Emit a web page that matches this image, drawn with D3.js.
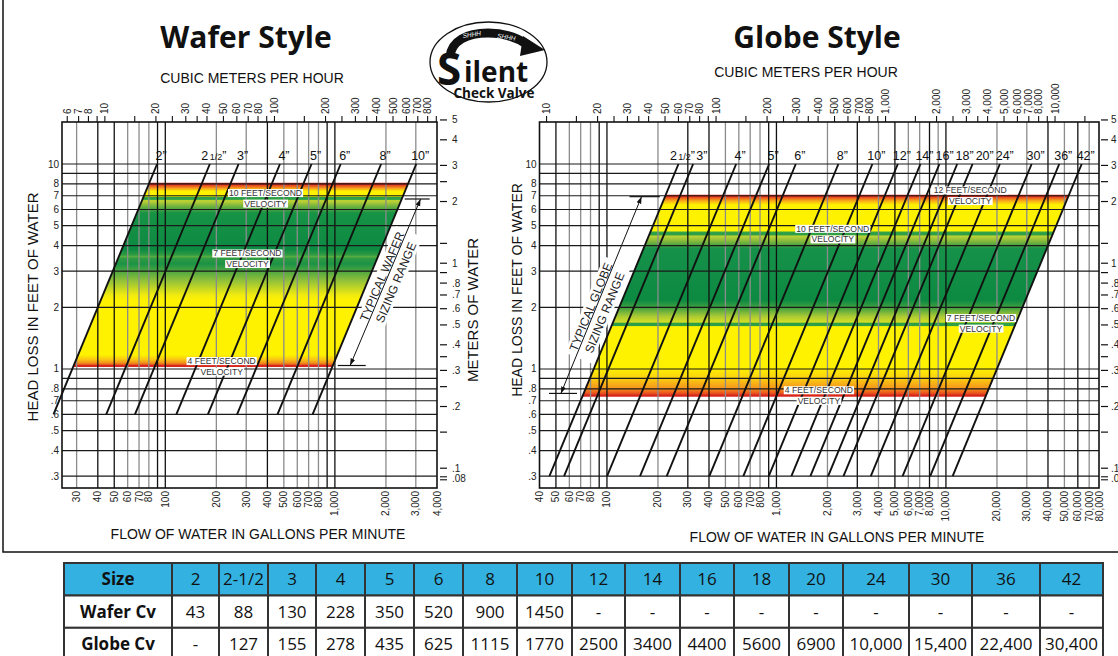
<!DOCTYPE html>
<html><head><meta charset="utf-8">
<script src="https://cdn.jsdelivr.net/npm/d3@7"></script>
<style>body{margin:0;background:#fff}svg{display:block}</style>
</head><body>
<svg id="c" width="1118" height="656"></svg>
<script>
// ---------------- DATA ----------------
const sizes    = ["2","2-1/2","3","4","5","6","8","10","12","14","16","18","20","24","30","36","42"];
const waferCv  = [43,88,130,228,350,520,900,1450,null,null,null,null,null,null,null,null,null];
const globeCv  = [null,127,155,278,435,625,1115,1770,2500,3400,4400,5600,6900,10000,15400,22400,30400];

const headGrid   = [10,9,8,7,6,5,4,3,2,1,0.9,0.8,0.7,0.6,0.5,0.4,0.3];
const headLabels = [10,8,7,6,5,4,3,2,1,0.8,0.7,0.6,0.5,0.4,0.3];
const meterLabels = [5,4,3,2,1,0.8,0.7,0.6,0.5,0.4,0.3,0.2,0.1];
const meterMinor  = [2.5,1.25,0.9,0.35,0.25,0.15];

const waferGpmGrid   = [30,40,50,60,70,80,90,100,200,300,400,500,600,700,800,900,1000,2000,3000];
const waferGpmLabels = [30,40,50,60,70,80,100,200,300,400,500,600,700,800,1000,2000,3000,4000];
const waferM3Labels  = [6,7,8,10,20,30,40,50,60,70,80,100,200,300,400,500,600,700,800];
const waferM3Minor   = [9,15,25,35,90,150,250,350,900];

const globeGpmGrid   = [50,60,70,80,90,100,200,300,400,500,600,700,800,900,1000,2000,3000,4000,5000,6000,7000,8000,9000,10000,20000,30000,40000,50000,60000,70000];
const globeGpmLabels = [40,50,60,70,80,100,200,300,400,500,600,700,800,1000,2000,3000,4000,5000,6000,7000,8000,10000,20000,30000,40000,50000,60000,70000,80000];
const globeM3Labels  = [10,20,30,40,50,60,70,80,100,200,300,400,500,600,700,800,1000,2000,3000,4000,5000,6000,7000,8000,10000];
const globeM3Minor   = [15,25,35,90,150,250,350,900,1500,2500,3500,9000,15000];

// velocity zone (head loss in ft) and velocity notes
const waferBand = [1.035, 8];
const globeBand = [0.74, 7];
const waferNotes = [
  {q:390, h:6.8,  t:["10 FEET/SECOND","VELOCITY"]},
  {q:305, h:3.45, t:["7 FEET/SECOND","VELOCITY"]},
  {q:215, h:1.03, t:["4 FEET/SECOND","VELOCITY"]}
];
const globeNotes = [
  {q:13900, h:7.0,  t:["12 FEET/SECOND","VELOCITY"]},
  {q:2150,  h:4.55, t:["10 FEET/SECOND","VELOCITY"]},
  {q:16100, h:1.67, t:["7 FEET/SECOND","VELOCITY"]},
  {q:1780,  h:0.742,t:["4 FEET/SECOND","VELOCITY"]}
];
const waferRange = {q0:1230,h0:1.04,q1:3200,h1:6.75, tick0:[1040,1520], tick1:[2580,3620], text:["TYPICAL WAFER","SIZING RANGE"]};
const globeRange = {q0:53.5,h0:0.76,q1:160,h1:6.93, tick0:[45.5,66.6], tick1:[136,205], text:["TYPICAL GLOBE","SIZING RANGE"]};

// ---------------- CONSTANTS ----------------
const PSI_FT = 2.31;      // ft of water per psi
const M3H_GPM = 4.40287;  // gpm per m3/h
const FT_M = 3.2808;      // ft per metre
const F = "'Liberation Sans', Arial, Helvetica, sans-serif";
const FO = "'Open Sans', 'Liberation Sans', sans-serif";

const svg = d3.select("#c");
const defs = svg.append("defs");
defs.append("marker").attr("id","ah").attr("viewBox","0 0 10 10").attr("refX",10).attr("refY",5)
  .attr("markerWidth",7).attr("markerHeight",7).attr("orient","auto-start-reverse")
  .append("path").attr("d","M0,1.5 L10,5 L0,8.5 Z").attr("fill","#111");

// outer frame
svg.append("rect").attr("x",3).attr("y",-10).attr("width",1130).attr("height",562)
  .attr("fill","none").attr("stroke","#111").attr("stroke-width",1.5);

const qOf = (cv,h)=>cv*Math.sqrt(h/PSI_FT);
const fmtHead = v => v>=1 ? String(v) : String(v).replace(/^0/,"");

function boxed(g,x,y,txt,size){
  const t = g.append("text").attr("x",x).attr("y",y).attr("dy","0.35em").attr("text-anchor","middle")
    .attr("font-family",F).attr("font-size",size).attr("fill","#333").text(txt);
  const b = t.node().getBBox();
  g.insert("rect",()=>t.node()).attr("x",b.x-1).attr("y",b.y+1).attr("width",b.width+2).attr("height",b.height-2).attr("fill","#fff");
}

function drawChart(o){
  const x = d3.scaleLog().domain(o.gpmDomain).range([o.left,o.right]);
  const y = d3.scaleLog().domain([0.2627,16.03]).range([488,122]);
  const top=122, bot=488;
  const g = svg.append("g");
  const idx = sizes.map((s,i)=>i).filter(i=>o.cv[i]!=null);

  // velocity band
  const gid = o.id+"g";
  const grad = defs.append("linearGradient").attr("id",gid).attr("gradientUnits","userSpaceOnUse")
    .attr("x1",0).attr("x2",0).attr("y1",y(o.band[1])).attr("y2",y(o.band[0]));
  o.stops.forEach(s=>grad.append("stop").attr("offset",s[0]).attr("stop-color",s[1]));
  const cA=o.cv[idx[0]], cB=o.cv[idx[idx.length-1]];
  const corners=[[qOf(cA,o.band[0]),o.band[0]],[qOf(cB,o.band[0]),o.band[0]],[qOf(cB,o.band[1]),o.band[1]],[qOf(cA,o.band[1]),o.band[1]]];
  g.append("path").attr("d",d3.line()(corners.map(p=>[x(p[0]),y(p[1])]))+"Z").attr("fill",`url(#${gid})`);
  [o.band[0],o.band[1]].forEach(h=>{
    g.append("line").attr("x1",x(qOf(cA,h))).attr("x2",x(qOf(cB,h))).attr("y1",y(h)).attr("y2",y(h))
      .attr("stroke","#d8261d").attr("stroke-width",2);
  });

  // grid
  g.selectAll(null).data(o.gpmGrid).join("line")
    .attr("x1",d=>x(d)).attr("x2",d=>x(d)).attr("y1",top).attr("y2",bot)
    .attr("stroke",d=>o.dark.includes(d)?"#111":"#8c8c8c").attr("stroke-width",1.3);
  g.selectAll(null).data(headGrid).join("line")
    .attr("x1",o.left).attr("x2",o.right).attr("y1",d=>y(d)).attr("y2",d=>y(d))
    .attr("stroke","#1a1a1a").attr("stroke-width",1.2);

  // typical range annotation
  const r=o.range;
  const p0=[x(r.q0),y(r.h0)], p1=[x(r.q1),y(r.h1)];
  const ang=Math.atan2(p1[1]-p0[1],p1[0]-p0[0]);
  const ux=Math.cos(ang), uy=Math.sin(ang);
  const mx=(p0[0]+p1[0])/2+ux*o.along, my=(p0[1]+p1[1])/2+uy*o.along;
  const tg=g.append("g").attr("transform",`translate(${mx},${my}) rotate(${ang*180/Math.PI})`);
  tg.append("rect").attr("x",-52).attr("y",-12).attr("width",104).attr("height",29).attr("fill","#fff");
  tg.append("text").attr("y",-1).attr("text-anchor","middle").attr("font-family",F).attr("font-size",12).attr("fill","#222").text(r.text[0]);
  tg.append("text").attr("y",14).attr("text-anchor","middle").attr("font-family",F).attr("font-size",12).attr("fill","#222").text(r.text[1]);
  g.append("line").attr("x1",p0[0]).attr("y1",p0[1]).attr("x2",p1[0]).attr("y2",p1[1])
    .attr("stroke","#111").attr("stroke-width",1).attr("marker-start","url(#ah)").attr("marker-end","url(#ah)");
  [[r.tick0,r.h0],[r.tick1,r.h1]].forEach(([qq,h])=>{
    g.append("line").attr("x1",x(qq[0])).attr("x2",x(qq[1])).attr("y1",y(h)).attr("y2",y(h)).attr("stroke","#111").attr("stroke-width",1.2);
  });

  // plot box
  g.append("rect").attr("x",o.left).attr("y",top).attr("width",o.right-o.left).attr("height",bot-top)
    .attr("fill","none").attr("stroke","#111").attr("stroke-width",1.6);

  // size lines
  g.selectAll(null).data(idx).join("line")
    .attr("x1",i=>x(qOf(o.cv[i],o.hMin))).attr("y1",y(o.hMin))
    .attr("x2",i=>x(qOf(o.cv[i],10))).attr("y2",y(10))
    .attr("stroke","#111").attr("stroke-width",1.9);

  // size labels with simple dodging
  let prevX=-1e9, prevW=0;
  idx.forEach(i=>{
    const s=sizes[i];
    const t=g.append("text").attr("y",160).attr("text-anchor","middle").attr("font-family",F).attr("font-size",12.5).attr("fill","#111");
    if(s.includes("-1/2")){
      t.append("tspan").text(s.split("-")[0]);
      t.append("tspan").attr("font-size",9).attr("dx",1.5).text("1/2");
      t.append("tspan").text("\u201D");
    } else t.text(s+"\u201D");
    const w=t.node().getComputedTextLength();
    let cx=x(qOf(o.cv[i],10))+4;
    cx=Math.max(cx,prevX+prevW/2+w/2+2);
    t.attr("x",cx);
    prevX=cx; prevW=w;
  });

  // velocity notes
  o.notes.forEach(n=>{
    boxed(g,x(n.q),y(n.h)-5.3,n.t[0],8.6);
    boxed(g,x(n.q),y(n.h)+5.3,n.t[1],8.6);
  });

  // left head axis labels
  g.selectAll(null).data(headLabels).join("text")
    .attr("x",o.left-3).attr("y",d=>y(d)).attr("dy","0.35em").attr("text-anchor","end")
    .attr("font-family",F).attr("font-size",10).attr("fill","#222").text(fmtHead);

  // right metre axis
  const ym = m=>y(m*FT_M);
  const t0=o.right+o.mTick, t1=o.right+o.mTick+7, tl=o.right+o.mLab;
  g.selectAll(null).data(meterLabels.concat(meterMinor)).join("line")
    .attr("x1",t0).attr("x2",t1).attr("y1",ym).attr("y2",ym).attr("stroke","#111").attr("stroke-width",1.2);
  g.selectAll(null).data(meterLabels).join("text")
    .attr("x",tl).attr("y",ym).attr("dy","0.35em").attr("font-family",F).attr("font-size",10).attr("fill","#222").text(fmtHead);
  [-1.5,1.5].forEach(dd=>g.append("line").attr("x1",t0).attr("x2",t1).attr("y1",ym(0.0893)+dd).attr("y2",ym(0.0893)+dd).attr("stroke","#111").attr("stroke-width",1.1));
  g.append("text").attr("x",tl).attr("y",ym(0.0893)).attr("dy","0.35em").attr("font-family",F).attr("font-size",10).attr("fill","#222").text(".08");

  // top m3/h axis
  const xm = v=>x(v*M3H_GPM);
  g.selectAll(null).data(o.m3Labels.concat(o.m3Minor)).join("line")
    .attr("x1",xm).attr("x2",xm).attr("y1",top).attr("y2",top-6).attr("stroke","#111").attr("stroke-width",1.1);
  g.selectAll(null).data(o.m3Labels).join("text")
    .attr("transform",d=>`translate(${xm(d)},114) rotate(-90)`).attr("dy","0.35em")
    .attr("font-family",F).attr("font-size",10).attr("fill","#222").text(d3.format(","));

  // bottom gpm axis
  g.selectAll(null).data(o.gpmLabels).join("text")
    .attr("transform",d=>`translate(${x(d)},491) rotate(-90)`).attr("dy","0.35em").attr("text-anchor","end")
    .attr("font-family",F).attr("font-size",10).attr("fill","#222").text(d3.format(","));

  // titles
  svg.append("text").attr("x",o.titleX).attr("y",48).attr("text-anchor","middle").attr("font-family",FO)
    .attr("font-weight",700).attr("font-size",30).attr("fill","#111").text(o.title);
  svg.append("text").attr("x",o.m3TitleX).attr("y",o.m3TitleY).attr("text-anchor","middle").attr("font-family",F)
    .attr("font-size",14).attr("fill","#111").text("CUBIC METERS PER HOUR");
  svg.append("text").attr("x",o.gpmTitleX).attr("y",o.gpmTitleY).attr("text-anchor","middle").attr("font-family",F)
    .attr("font-size",14).attr("fill","#111").text("FLOW OF WATER IN GALLONS PER MINUTE");
  svg.append("text").attr("transform",`translate(${o.headTitleX},${o.headTitleY}) rotate(-90)`).attr("text-anchor","middle")
    .attr("font-family",F).attr("font-size",o.headTitleSize).attr("fill","#111").text("HEAD LOSS IN FEET OF WATER");
  if(o.meterTitle) svg.append("text").attr("transform",`translate(478,310) rotate(-90)`).attr("text-anchor","middle")
    .attr("font-family",F).attr("font-size",15).attr("fill","#111").text("METERS OF WATER");
}

const waferStops=[[0,"#d42a20"],[0.01,"#e8501f"],[0.025,"#f5a21c"],[0.04,"#fef200"],[0.068,"#fef200"],[0.074,"#2c9f47"],[0.085,"#2c9f47"],[0.092,"#c6d531"],[0.115,"#88ba3c"],[0.16,"#179346"],[0.36,"#0d8a42"],[0.39,"#2f9a43"],[0.40,"#5aae41"],[0.41,"#2f9a43"],[0.44,"#1b9345"],[0.53,"#8fc03a"],[0.61,"#f0ea10"],[0.64,"#fef200"],[0.94,"#fef200"],[0.965,"#f9c514"],[0.985,"#f08a1c"],[1,"#d42a20"]];
const globeStops=[[0,"#d42a20"],[0.01,"#ea5a1e"],[0.025,"#f7aa1a"],[0.045,"#fef200"],[0.174,"#fef200"],[0.184,"#2c9f47"],[0.194,"#2c9f47"],[0.202,"#bcd234"],[0.229,"#7fb63c"],[0.264,"#16914a"],[0.522,"#0d8a42"],[0.562,"#45a240"],[0.602,"#a8c934"],[0.632,"#d5df24"],[0.637,"#2c9f47"],[0.649,"#2c9f47"],[0.654,"#fef200"],[0.861,"#fef200"],[0.91,"#fbd10f"],[0.96,"#f5981c"],[0.985,"#ec5a1d"],[1,"#d42a20"]];

drawChart({id:"w",left:62,right:437,gpmDomain:[24.6,4000],cv:waferCv,band:waferBand,stops:waferStops,hMin:0.6,
  gpmGrid:waferGpmGrid,gpmLabels:waferGpmLabels,m3Labels:waferM3Labels,m3Minor:waferM3Minor,
  dark:[40,50,90,100,400,900,1000],notes:waferNotes,range:waferRange,along:4,mTick:3,mLab:15,
  title:"Wafer Style",titleX:246,m3TitleX:252,m3TitleY:83,gpmTitleX:258,gpmTitleY:539,
  headTitleX:38,headTitleY:307,headTitleSize:15,meterTitle:true});
drawChart({id:"gl",left:539.5,right:1099,gpmDomain:[40,80000],cv:globeCv,band:globeBand,stops:globeStops,hMin:0.3,
  gpmGrid:globeGpmGrid,gpmLabels:globeGpmLabels,m3Labels:globeM3Labels,m3Minor:globeM3Minor,
  dark:[50,90,100,300,400,900,1000,3000,5000,8000,10000,40000,60000],notes:globeNotes,range:globeRange,along:-15,mTick:2,mLab:12,
  title:"Globe Style",titleX:817,m3TitleX:806,m3TitleY:77,gpmTitleX:837,gpmTitleY:542,
  headTitleX:522,headTitleY:290,headTitleSize:14,meterTitle:false});

// ---------------- LOGO ----------------
const lg=svg.append("g");
lg.append("ellipse").attr("cx",488.5).attr("cy",62).attr("rx",58.5).attr("ry",40).attr("fill","#fff").attr("stroke","#111").attr("stroke-width",1.3);
lg.append("path").attr("d","M450,57 C451,41 467,33 488,33 C505,33 518,38 528,45").attr("fill","none").attr("stroke","#111").attr("stroke-width",9);
lg.append("path").attr("d","M523,36 L545,50 L520,56 Z").attr("fill","#111");
lg.append("text").attr("x",463).attr("y",38).attr("font-family",F).attr("font-style","italic").attr("font-size",6.5).attr("fill","#fff").attr("transform","rotate(-8,463,38)").text("SHHH");
lg.append("text").attr("x",497).attr("y",38).attr("font-family",F).attr("font-style","italic").attr("font-size",6.5).attr("fill","#fff").attr("transform","rotate(8,497,38)").text("SHHH");
lg.append("text").attr("x",437).attr("y",85).attr("font-family",FO).attr("font-weight",700).attr("font-size",44).attr("fill","#111").text("S");
lg.append("text").attr("x",464).attr("y",82).attr("font-family",FO).attr("font-weight",700).attr("font-size",28).attr("fill","#111").text("ilent");
lg.append("text").attr("x",494).attr("y",98).attr("text-anchor","middle").attr("font-family",FO).attr("font-weight",700).attr("font-size",13.5).attr("fill","#111").text("Check Valve");

// ---------------- TABLE ----------------
const cvText = v => v==null ? "-" : (v>=10000 ? d3.format(",")(v) : String(v));
const rows = [
  ["Size"].concat(sizes),
  ["Wafer Cv"].concat(waferCv.map(cvText)),
  ["Globe Cv"].concat(globeCv.map(cvText))
];
const colEdges=[64,172,219,268,316,365,414,463,517,572,625,680,734,789,843,909,972,1040,1103];
const rowEdges=[563,595.5,627.8,660];
const tb=svg.append("g");
rows.forEach((r,ri)=>{
  r.forEach((c,ci)=>{
    const x0=colEdges[ci], x1=colEdges[ci+1], y0=rowEdges[ri], y1=rowEdges[ri+1];
    tb.append("rect").attr("x",x0).attr("y",y0).attr("width",x1-x0).attr("height",y1-y0)
      .attr("fill",ri===0?"#33b2e1":"#fff").attr("stroke","#333").attr("stroke-width",2);
    tb.append("text").attr("x",(x0+x1)/2).attr("y",(y0+y1)/2).attr("dy","0.36em").attr("text-anchor","middle")
      .attr("font-family",FO).attr("font-size",17).attr("font-weight",ci===0?700:400).attr("fill","#111").text(c);
  });
});
</script>
</body></html>
